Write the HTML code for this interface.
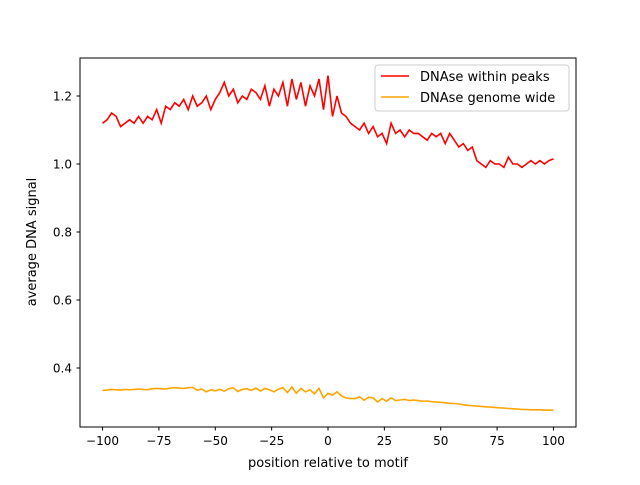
<!DOCTYPE html>
<html><head><meta charset="utf-8"><style>
body{margin:0;background:#fff}
svg text{font-family:"DejaVu Sans","Liberation Sans",sans-serif;fill:#000}
</style></head><body>
<svg id="chart" width="640" height="480" xmlns="http://www.w3.org/2000/svg">
<rect width="640" height="480" fill="#fff"/>
<g id="plot"></g>
<rect x="80" y="58" width="496" height="369" fill="none" stroke="#000" stroke-width="1"/>
<g id="ticks"></g>
<text x="328" y="467" font-size="13" text-anchor="middle">position relative to motif</text>
<text transform="translate(36,242) rotate(-90)" font-size="13" text-anchor="middle">average DNA signal</text>
<g>
<rect x="375" y="65" width="194" height="46" rx="3" fill="#fff" fill-opacity="0.8" stroke="#ccc"/>
<line x1="381" y1="76" x2="409" y2="76" stroke="red" stroke-width="1.5"/>
<text x="420" y="81" font-size="13">DNAse within peaks</text>
<line x1="381" y1="97" x2="409" y2="97" stroke="orange" stroke-width="1.5"/>
<text x="420" y="102" font-size="13">DNAse genome wide</text>
</g>
</svg>
<script>
const positions = [];
for (let i = -100; i <= 100; i += 2) positions.push(i);
const peaks = [1.12,1.13,1.15,1.14,1.11,1.12,1.13,1.12,1.14,1.12,1.14,1.13,1.16,1.12,1.17,1.16,1.18,1.17,1.19,1.16,1.20,1.17,1.18,1.20,1.16,1.19,1.21,1.24,1.20,1.22,1.18,1.20,1.19,1.22,1.21,1.19,1.23,1.17,1.22,1.20,1.24,1.17,1.25,1.19,1.24,1.17,1.23,1.20,1.25,1.16,1.26,1.14,1.20,1.15,1.14,1.12,1.11,1.10,1.12,1.09,1.11,1.08,1.09,1.06,1.12,1.09,1.10,1.08,1.10,1.09,1.09,1.08,1.07,1.09,1.08,1.09,1.06,1.09,1.07,1.05,1.06,1.04,1.05,1.01,1.00,0.99,1.01,1.00,1.00,0.99,1.02,1.00,1.00,0.99,1.00,1.01,1.00,1.01,1.00,1.01,1.015];
const genome = [0.334,0.335,0.337,0.336,0.335,0.337,0.336,0.337,0.338,0.337,0.336,0.339,0.340,0.339,0.338,0.341,0.342,0.341,0.340,0.342,0.343,0.335,0.338,0.330,0.336,0.333,0.337,0.332,0.339,0.342,0.331,0.337,0.339,0.334,0.341,0.332,0.340,0.336,0.330,0.338,0.342,0.328,0.344,0.326,0.340,0.330,0.336,0.324,0.340,0.312,0.326,0.320,0.330,0.318,0.312,0.310,0.310,0.315,0.305,0.314,0.312,0.300,0.310,0.302,0.312,0.304,0.306,0.308,0.304,0.306,0.304,0.302,0.303,0.301,0.300,0.299,0.298,0.296,0.296,0.294,0.292,0.290,0.289,0.288,0.287,0.286,0.285,0.284,0.283,0.282,0.281,0.280,0.279,0.278,0.278,0.277,0.277,0.277,0.276,0.276,0.276];
const xTicks = [-100,-75,-50,-25,0,25,50,75,100];
const yTicks = [0.4,0.6,0.8,1.0,1.2];
const X = v => 80 + (v + 110) / 220 * 496;
const Y = v => 96 + (1.2 - v) * 340;
const NS = "http://www.w3.org/2000/svg";
const plot = document.getElementById('plot'), tg = document.getElementById('ticks');
function series(vals, color, name) {
  const p = document.createElementNS(NS, 'polyline');
  
  
  p.setAttribute('points', vals.map((v, i) => X(positions[i]).toFixed(1) + ',' + Y(v).toFixed(1)).join(' '));
  p.setAttribute('fill', 'none'); p.setAttribute('stroke', color); p.setAttribute('stroke-width', '1.6');
  plot.appendChild(p);
}
series(peaks, 'red', 'series-within-peaks');
series(genome, 'orange', 'series-genome-wide');
xTicks.forEach(t => {
  const x = X(t);
  const l = document.createElementNS(NS, 'line');
  
  
  l.setAttribute('x1', x); l.setAttribute('x2', x); l.setAttribute('y1', 427); l.setAttribute('y2', 430.5); l.setAttribute('stroke', '#000');
  tg.appendChild(l);
  const tx = document.createElementNS(NS, 'text');
  
  
  tx.setAttribute('x', x); tx.setAttribute('y', 445); tx.setAttribute('font-size', '12'); tx.setAttribute('text-anchor', 'middle');
  tx.textContent = t < 0 ? '\u2212' + (-t) : String(t);
  tg.appendChild(tx);
});
yTicks.forEach(t => {
  const y = Y(t);
  const l = document.createElementNS(NS, 'line');
  
  
  l.setAttribute('x1', 76.5); l.setAttribute('x2', 80); l.setAttribute('y1', y); l.setAttribute('y2', y); l.setAttribute('stroke', '#000');
  tg.appendChild(l);
  const tx = document.createElementNS(NS, 'text');
  
  
  tx.setAttribute('x', 72); tx.setAttribute('y', y + 4.5); tx.setAttribute('font-size', '12'); tx.setAttribute('text-anchor', 'end');
  tx.textContent = t.toFixed(1);
  tg.appendChild(tx);
});
</script>
</body></html>
